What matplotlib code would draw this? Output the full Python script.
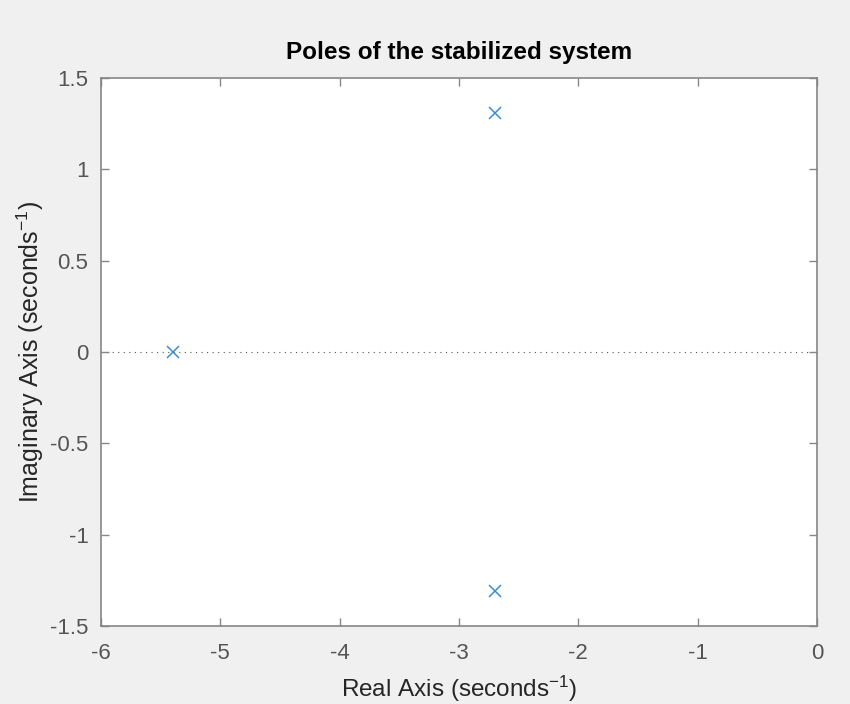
import numpy as np
import matplotlib.pyplot as plt

plt.rcParams['font.family'] = ['Liberation Sans', 'DejaVu Sans']
plt.rcParams['mathtext.default'] = 'regular'

# poles of the closed loop system
pole_re = [-5.4, -2.7, -2.7]
pole_im = [0.0, 1.31, -1.31]

xticks = [-6, -5, -4, -3, -2, -1, 0]
yticks = [-1.5, -1, -0.5, 0, 0.5, 1, 1.5]
ytick_labels = ['-1.5', '-1', '-0.5', '0', '0.5', '1', '1.5']

axcol = '#868686'
txtcol = '#555555'

fig = plt.figure(figsize=(8.5, 7.04), dpi=100, facecolor='#f0f0f0')
ax = fig.add_axes([0.1188, 0.1108, 0.8424, 0.7784])
ax.set_facecolor('white')

ax.axhline(0, color='#555555', linestyle=(0, (1, 4)), linewidth=0.8, zorder=1)
ax.axvline(0, color='#555555', linestyle=(0, (1, 4)), linewidth=0.8, zorder=1)

ax.plot(pole_re, pole_im, 'x', color='#3a8fd0', markersize=9, markeredgewidth=1.1,
        linestyle='none', zorder=3)

ax.set_xlim(-6, 0)
ax.set_ylim(-1.5, 1.5)
ax.set_xticks(xticks)
ax.set_xticklabels([str(t) for t in xticks])
ax.set_yticks(yticks)
ax.set_yticklabels(ytick_labels)

ax.tick_params(direction='in', length=6, width=1, color=axcol, labelcolor=txtcol,
               labelsize=16, top=True, right=True)
ax.tick_params(axis='x', pad=12)
ax.tick_params(axis='y', pad=9)
for s in ax.spines.values():
    s.set_color(axcol)
    s.set_linewidth(1.2)

ax.set_title('Poles of the stabilized system', fontsize=17.5, fontweight='bold', pad=13.5)
ax.set_xlabel('Real Axis (seconds$^{-1}$)', fontsize=17.5, color='#262626', labelpad=7)
ax.set_ylabel('Imaginary Axis (seconds$^{-1}$)', fontsize=18, color='#262626', labelpad=3)

plt.savefig('out.png', dpi=100, facecolor=fig.get_facecolor())
